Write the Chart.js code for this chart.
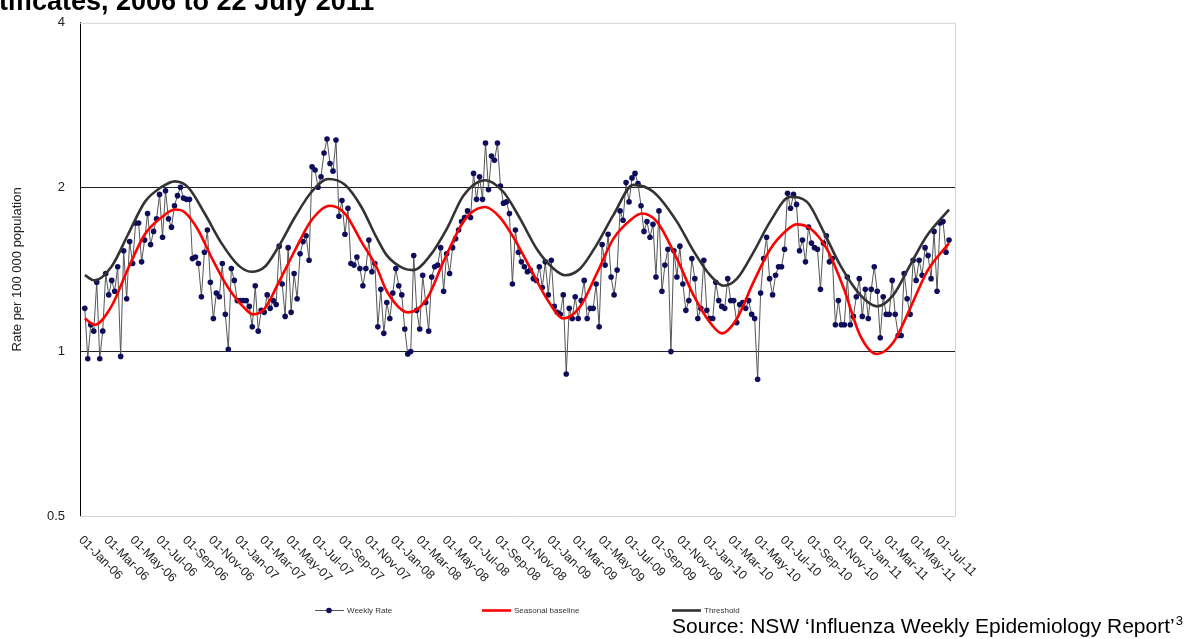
<!DOCTYPE html>
<html lang="en">
<head>
<meta charset="UTF-8">
<title>Weekly rate, seasonal baseline and threshold</title>
<script src="https://cdn.jsdelivr.net/npm/chart.js@4"></script>
<style>
    html, body { margin: 0; padding: 0; background: #fff; }
    #wrap { position: relative; width: 1193px; height: 639px; }
</style>
</head>
<body>
<div id="wrap"><canvas id="chart" width="1193" height="639"></canvas></div>
<script>
// date of the first weekly value
const firstWeek = '2006-01-06';

const tickLabels = [
    '01-Jan-06', '01-Mar-06', '01-May-06', '01-Jul-06', '01-Sep-06', '01-Nov-06',
    '01-Jan-07', '01-Mar-07', '01-May-07', '01-Jul-07', '01-Sep-07', '01-Nov-07',
    '01-Jan-08', '01-Mar-08', '01-May-08', '01-Jul-08', '01-Sep-08', '01-Nov-08',
    '01-Jan-09', '01-Mar-09', '01-May-09', '01-Jul-09', '01-Sep-09', '01-Nov-09',
    '01-Jan-10', '01-Mar-10', '01-May-10', '01-Jul-10', '01-Sep-10', '01-Nov-10',
    '01-Jan-11', '01-Mar-11', '01-May-11', '01-Jul-11'
];

const yTicks = [0.5, 1, 2, 4];

// weekly rate per 100 000, one value per week
const weeklyRate = [
    1.20, 0.97, 1.12, 1.09, 1.34, 0.97, 1.09, 1.39, 1.27, 1.35,
    1.29, 1.43, 0.98, 1.53, 1.25, 1.59, 1.45, 1.72, 1.72, 1.46,
    1.60, 1.79, 1.57, 1.66, 1.75, 1.94, 1.62, 1.97, 1.75, 1.69,
    1.85, 1.93, 2.00, 1.91, 1.90, 1.90, 1.48, 1.49, 1.45, 1.26,
    1.52, 1.67, 1.34, 1.15, 1.28, 1.26, 1.45, 1.17, 1.01, 1.42,
    1.35, 1.24, 1.24, 1.24, 1.24, 1.21, 1.11, 1.32, 1.09, 1.19,
    1.18, 1.27, 1.20, 1.24, 1.22, 1.56, 1.33, 1.16, 1.55, 1.18,
    1.39, 1.25, 1.51, 1.59, 1.63, 1.47, 2.18, 2.15, 2.00, 2.09,
    2.31, 2.45, 2.21, 2.14, 2.44, 1.77, 1.89, 1.64, 1.83, 1.45,
    1.44, 1.49, 1.42, 1.32, 1.42, 1.60, 1.40, 1.45, 1.11,
    1.30, 1.08, 1.23, 1.15, 1.28, 1.42, 1.32, 1.27, 1.10, 0.99,
    1.00, 1.50, 1.19, 1.10, 1.38, 1.23, 1.09, 1.37, 1.43, 1.44,
    1.55, 1.29, 1.51, 1.39, 1.55, 1.61, 1.67, 1.73, 1.76, 1.81,
    1.76, 2.12, 1.90, 2.09, 1.90, 2.41, 1.98, 2.28, 2.24, 2.41,
    2.01, 1.87, 1.88, 1.79, 1.33, 1.67, 1.52, 1.46, 1.43, 1.40,
    1.41, 1.36, 1.35, 1.43, 1.31, 1.46, 1.27, 1.47, 1.21, 1.18,
    1.17, 1.27, 0.91, 1.20, 1.15, 1.26, 1.15, 1.24, 1.35, 1.15,
    1.20, 1.20, 1.33, 1.11, 1.57, 1.44, 1.64, 1.37, 1.27, 1.41,
    1.81, 1.74, 2.04, 1.88, 2.08, 2.12, 2.03, 1.85, 1.66, 1.73,
    1.62, 1.71, 1.37, 1.81, 1.29, 1.44, 1.54,
    1.00, 1.53, 1.37, 1.56, 1.33, 1.19, 1.24, 1.48, 1.36, 1.15,
    1.20, 1.47, 1.19, 1.15, 1.15, 1.34, 1.24, 1.21, 1.20, 1.36,
    1.24, 1.24, 1.13, 1.22, 1.23, 1.20, 1.24, 1.17, 1.15, 0.89,
    1.28, 1.48, 1.62, 1.36, 1.27, 1.38, 1.43, 1.43, 1.54, 1.95,
    1.83, 1.94, 1.86, 1.53, 1.60, 1.46, 1.69, 1.58, 1.55, 1.54,
    1.30, 1.58, 1.63, 1.46, 1.48, 1.12, 1.24, 1.12, 1.12, 1.37,
    1.12, 1.16, 1.26, 1.36, 1.16, 1.30, 1.15, 1.30, 1.43, 1.29,
    1.06, 1.26, 1.17, 1.17, 1.35, 1.17, 1.07, 1.07, 1.39, 1.25,
    1.17, 1.47, 1.35, 1.47, 1.38, 1.55, 1.50, 1.36, 1.66, 1.29,
    1.72, 1.73, 1.52, 1.60
];

// seasonal baseline, read at these week numbers
const baselineWeek = [
    0, 3.3, 8.9, 14.5, 20.1, 25.6, 30.1, 33.4, 37.9, 42.3,
    47.9, 53.5, 56.3, 60.2, 64.6, 70.2, 75.8, 81.9, 87, 92.5,
    97.5, 101, 108.2, 114.4, 119.9, 125.5, 128.9, 133.9, 138.9, 143.3,
    149, 154.5, 160.1, 165.7, 171.2, 176.8, 182.4, 186.3, 191.3,
    198, 203.5, 209.1, 213, 218.1, 223.6, 229.2, 234.8, 238.1, 242.6,
    248.2, 253.7, 259.3, 264.9, 270.4, 276, 281.6, 289
];
const baselineRate = [
    1.15, 1.12, 1.21, 1.42, 1.64, 1.76, 1.82, 1.80, 1.67, 1.49,
    1.31, 1.20, 1.17, 1.20, 1.33, 1.53, 1.74, 1.85, 1.79, 1.59,
    1.43, 1.29, 1.18, 1.25, 1.46, 1.69, 1.79, 1.84, 1.76, 1.62,
    1.42, 1.25, 1.15, 1.21, 1.39, 1.61, 1.74, 1.79, 1.73,
    1.48, 1.27, 1.13, 1.08, 1.15, 1.34, 1.54, 1.67, 1.71, 1.68,
    1.54, 1.31, 1.07, 0.99, 1.04, 1.20, 1.40, 1.58
];

// epidemic threshold, read at these week numbers
const thresholdWeek = [
    0, 3.3, 8.9, 14.5, 20.1, 25.6, 30.1, 34.5, 40.1, 45.7,
    51.3, 55.7, 60.2, 64.6, 70.2, 75.8, 81.4, 87, 92.5, 97.5,
    101, 106.6, 109.9, 115.5, 121.1, 126.6, 133.9, 140, 145.6, 151.2,
    156.7, 160.6, 165.7, 171.2, 176.8, 183.5, 190.2, 198, 203.5, 209.1,
    213.6, 218.1, 223.6, 229.2, 235.9, 241.5, 247, 252.6, 259.3, 264.9,
    270.4, 276, 281.6, 289
];
const thresholdRate = [
    1.38, 1.35, 1.43, 1.64, 1.88, 2.00, 2.05, 2.00, 1.79, 1.58,
    1.44, 1.40, 1.43, 1.55, 1.76, 1.96, 2.07, 2.02, 1.84, 1.62,
    1.50, 1.42, 1.41, 1.50, 1.68, 1.93, 2.06, 1.96, 1.75, 1.54,
    1.42, 1.38, 1.42, 1.57, 1.78, 2.02, 1.96, 1.73, 1.53, 1.38,
    1.32, 1.36, 1.52, 1.73, 1.92, 1.88, 1.66, 1.44, 1.27, 1.21,
    1.27, 1.44, 1.63, 1.82
];

const FONT = 'Arial, "Liberation Sans", sans-serif';
const MONTHS = { Jan: 0, Feb: 1, Mar: 2, Apr: 3, May: 4, Jun: 5, Jul: 6, Aug: 7, Sep: 8, Oct: 9, Nov: 10, Dec: 11 };
const startTime = Date.parse(firstWeek + 'T00:00:00Z');

// week number of a "01-Jan-06" style label
const weekOf = (label) => {
    const [d, m, y] = label.split('-');
    return (Date.UTC(2000 + Number(y), MONTHS[m], Number(d)) - startTime) / (7 * 864e5);
};

const pairs = (xs, ys) => xs.map((x, i) => ({ x: x, y: ys[i] }));

// light grey frame around the plot
const framePlugin = {
    id: 'frame',
    beforeDatasetsDraw(chart) {
        const { ctx, chartArea: a } = chart;
        ctx.save();
        ctx.strokeStyle = '#d4d4d4';
        ctx.lineWidth = 1;
        ctx.beginPath();
        ctx.moveTo(a.left, a.top + 0.5);
        ctx.lineTo(a.right + 0.5, a.top + 0.5);
        ctx.lineTo(a.right + 0.5, a.bottom + 0.5);
        ctx.lineTo(a.left, a.bottom + 0.5);
        ctx.stroke();
        ctx.restore();
    }
};

// slanted date labels, legend, title and source line
const textPlugin = {
    id: 'texts',
    afterDraw(chart) {
        const { ctx, chartArea: a, scales: { x } } = chart;
        ctx.save();

        ctx.font = '12.5px ' + FONT;
        ctx.fillStyle = '#222';
        ctx.textAlign = 'left';
        ctx.textBaseline = 'middle';
        tickLabels.forEach(lbl => {
            const px = x.getPixelForValue(weekOf(lbl));
            ctx.save();
            ctx.translate(px - 2, a.bottom + 22);
            ctx.rotate(Math.PI / 4);
            ctx.fillText(lbl, 0, 0);
            ctx.restore();
        });

        // legend
        const ly = 610.5;
        const ds = chart.data.datasets;
        const items = [
            { d: ds[2], x0: 315 },
            { d: ds[1], x0: 482 },
            { d: ds[0], x0: 672 }
        ];
        ctx.font = '8px ' + FONT;
        items.forEach(it => {
            ctx.strokeStyle = it.d.borderColor;
            ctx.lineWidth = it.d.borderWidth;
            ctx.beginPath();
            ctx.moveTo(it.x0, ly);
            ctx.lineTo(it.x0 + 29, ly);
            ctx.stroke();
            if (it.d.pointRadius) {
                ctx.fillStyle = it.d.pointBackgroundColor;
                ctx.beginPath();
                ctx.arc(it.x0 + 14, ly, it.d.pointRadius, 0, Math.PI * 2);
                ctx.fill();
            }
            ctx.fillStyle = '#333';
            ctx.textBaseline = 'middle';
            ctx.fillText(it.d.label, it.x0 + 32, ly + 0.5);
        });

        // title (cut at the top edge)
        ctx.fillStyle = '#000';
        ctx.textBaseline = 'alphabetic';
        ctx.font = 'bold 27px ' + FONT;
        ctx.fillText('tificates, 2006 to 22 July 2011', -1, 10);

        // source
        ctx.font = '21px ' + FONT;
        const src = 'Source: NSW \u2018Influenza Weekly Epidemiology Report\u2019';
        ctx.fillText(src, 672, 633);
        const w = ctx.measureText(src).width;
        ctx.font = '13px ' + FONT;
        ctx.fillText('3', 673 + w, 625);

        ctx.restore();
    }
};

new Chart(document.getElementById('chart'), {
    type: 'line',
    data: {
        datasets: [
            {
                label: 'Threshold',
                data: pairs(thresholdWeek, thresholdRate),
                borderColor: '#333333',
                borderWidth: 2.6,
                pointRadius: 0,
                cubicInterpolationMode: 'monotone',
                order: 0
            },
            {
                label: 'Seasonal baseline',
                data: pairs(baselineWeek, baselineRate),
                borderColor: '#ff0000',
                borderWidth: 2.6,
                pointRadius: 0,
                cubicInterpolationMode: 'monotone',
                order: 1
            },
            {
                label: 'Weekly Rate',
                data: weeklyRate.map((v, i) => ({ x: i, y: v })),
                borderColor: '#555555',
                borderWidth: 1,
                pointRadius: 2.8,
                pointBackgroundColor: '#0d0d5c',
                pointBorderWidth: 0,
                tension: 0,
                order: 2
            }
        ]
    },
    options: {
        responsive: false,
        animation: false,
        devicePixelRatio: 1,
        layout: { padding: { top: 20, right: 238, bottom: 123, left: 0 } },
        plugins: {
            legend: { display: false },
            tooltip: { enabled: false }
        },
        scales: {
            x: {
                type: 'linear',
                min: -1.6,
                max: 291,
                grid: { display: false },
                border: { display: false },
                ticks: { display: false },
                afterFit(scale) { scale.height = 0; }
            },
            y: {
                type: 'logarithmic',
                min: 0.5,
                max: 4,
                afterBuildTicks(scale) { scale.ticks = yTicks.map(v => ({ value: v })); },
                afterFit(scale) { scale.width = 80; },
                ticks: {
                    padding: 15,
                    color: '#222',
                    font: { family: FONT, size: 13 },
                    callback: (v) => String(v)
                },
                grid: {
                    drawTicks: false,
                    lineWidth: 1,
                    color: (c) => (c.tick && (c.tick.value === 1 || c.tick.value === 2)) ? '#222' : 'rgba(0,0,0,0)'
                },
                border: { color: '#000', width: 1 },
                title: {
                    display: true,
                    text: 'Rate per 100 000 population',
                    color: '#222',
                    font: { family: FONT, size: 13 },
                    padding: { top: 10, bottom: 0 }
                }
            }
        }
    },
    plugins: [framePlugin, textPlugin]
});
</script>
</body>
</html>
